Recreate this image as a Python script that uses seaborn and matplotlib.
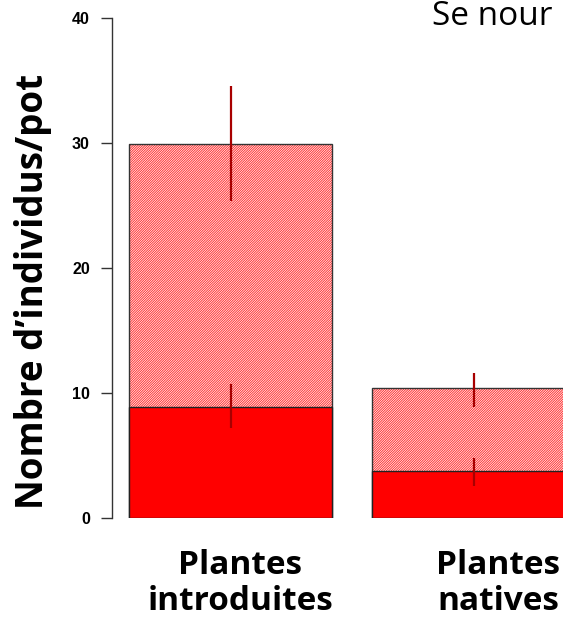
"""Abondance d'individus par pot : plantes introduites vs natives (barres empilées)."""

import matplotlib

matplotlib.use("Agg")

import matplotlib.pyplot as plt  # noqa: E402
import pandas as pd  # noqa: E402
import seaborn as sns  # noqa: E402

# --- données ---
categories = ["Plantes\nintroduites", "Plantes\nnatives"]
total = [29.9, 10.4]          # hauteur totale (partie hachurée)
total_lo = [25.4, 8.9]
total_hi = [34.6, 11.6]
bas = [8.9, 3.8]              # partie pleine (rouge)
bas_lo = [7.2, 2.6]
bas_hi = [10.7, 4.8]
yticks = [0, 10, 20, 30, 40]
label_shift = [0.04, 0.10]    # décalage horizontal des étiquettes

sns.set_theme(style="white")
plt.rcParams["hatch.linewidth"] = 0.7

df = pd.DataFrame({"cat": categories, "total": total, "bas": bas})

fig = plt.figure(figsize=(5.63, 6.29), dpi=100)
ax = fig.add_axes([112 / 563, 111 / 629, 451 / 563, 500 / 629])

W = 0.835
# partie hachurée (total)
sns.barplot(data=df, x="cat", y="total", color="white", hatch="/" * 14,
            edgecolor="#ff3030", linewidth=0, width=W, errorbar=None, ax=ax)
sns.barplot(data=df, x="cat", y="total", color="#333333", fill=False,
            linewidth=1, width=W, errorbar=None, ax=ax)
# partie pleine
sns.barplot(data=df, x="cat", y="bas", color="#ff0000", saturation=1,
            edgecolor="#222222", linewidth=1, width=W, errorbar=None, ax=ax)

xs = list(range(len(categories)))
ax.vlines(xs, total_lo, total_hi, color="#a80000", linewidth=1.6, zorder=5)
ax.vlines(xs, bas_lo, bas_hi, color="#a80000", linewidth=1.6, zorder=5)

ax.set_xlim(-0.488, 1.368)
ax.set_ylim(0, 40)
ax.set_yticks(yticks)
ax.set_yticklabels([str(v) for v in yticks])
for t in ax.get_yticklabels():
    t.set_fontweight("bold")
    t.set_fontsize(11.5)
    t.set_family("Liberation Sans")
    t.set_color("black")
ax.tick_params(axis="y", direction="out", length=8, width=1,
               color="#333333", pad=8, left=True)
ax.set_xticks([])
ax.set_xlabel("")
ax.set_ylabel("")
sns.despine(ax=ax, bottom=True)
ax.spines["left"].set_bounds(0, 40)
ax.spines["left"].set_color("#333333")
ax.spines["left"].set_linewidth(1)

for x, lab, dx in zip(xs, categories, label_shift):
    ax.text(x + dx, -2.5, lab, ha="center", va="top", fontsize=24,
            fontweight="bold", family="Open Sans", linespacing=1.1,
            color="black", clip_on=False)

fig.text(33 / 563, 1 - 291 / 629, "Nombre d\u2019individus/pot", rotation=90,
         ha="center", va="center", fontsize=26.5, fontweight="bold",
         family="Open Sans", color="black")
fig.text(432 / 563, 1 - 25 / 629, "Se nour", ha="left",
         va="baseline", fontsize=24, family="Open Sans", color="black")

fig.savefig("out.png", dpi=100)
plt.close(fig)
